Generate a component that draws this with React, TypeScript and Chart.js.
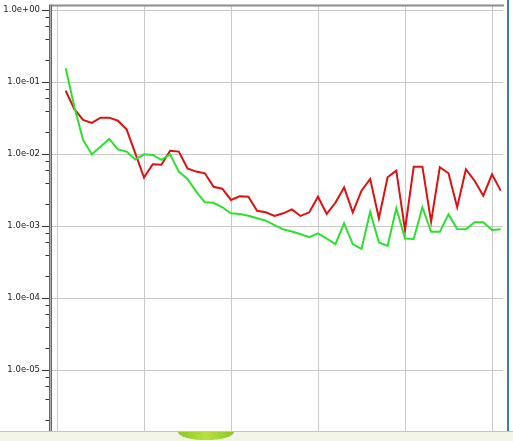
import React, { useEffect, useRef } from "react";
import { Chart, registerables } from "chart.js";

Chart.register(...registerables);

// Series values (x = sample index 1..51)
const redValues = [
  0.0757, 0.042, 0.0297, 0.027, 0.032, 0.032, 0.029, 0.022, 0.0102, 0.0047,
  0.0072, 0.0071, 0.0111, 0.0108, 0.0063, 0.0057, 0.0054, 0.0035, 0.0033, 0.0023,
  0.00258, 0.00255, 0.00163, 0.00155, 0.00138, 0.0015, 0.0017, 0.00138, 0.00155, 0.00255,
  0.00147, 0.0021, 0.00344, 0.00155, 0.0031, 0.0045, 0.00128, 0.00475, 0.00587, 0.00088,
  0.00667, 0.00667, 0.00115, 0.00654, 0.0054, 0.00182, 0.00613, 0.00426, 0.00264, 0.00522,
  0.0031,
];

const greenValues = [
  0.155, 0.045, 0.0156, 0.0099, 0.0126, 0.0162, 0.0116, 0.0108, 0.0084, 0.0099,
  0.0097, 0.0083, 0.0099, 0.0057, 0.0045, 0.003, 0.00213, 0.0021, 0.00182, 0.0015,
  0.00147, 0.00139, 0.00128, 0.00119, 0.00103, 0.0009, 0.00084, 0.00077, 0.0007, 0.00079,
  0.00067, 0.00056, 0.00109, 0.00056, 0.00048, 0.00158, 0.00059, 0.00053, 0.00176, 0.00067,
  0.00066, 0.00182, 0.00083, 0.00083, 0.00145, 0.00091, 0.0009, 0.00113, 0.00113, 0.00088,
  0.0009,
];

const xGridTicks = [0, 10, 20, 30, 40, 50];
const yMajorTicks = [1, 1e-1, 1e-2, 1e-3, 1e-4, 1e-5];
const yMajorLabels = ["1.0e+00", "1.0e-01", "1.0e-02", "1.0e-03", "1.0e-04", "1.0e-05"];
const yMinorMultipliers = [2, 4, 6, 8];

const isMajor = (v: number) => {
  const l = Math.log10(v);
  return Math.abs(l - Math.round(l)) < 1e-9;
};

const Y_MIN = Math.pow(10, -5.847);
const Y_MAX = Math.pow(10, 0.0556);

const framePlugin = {
  id: "frame",
  afterDraw(chart: any) {
    const ctx = chart.ctx;
    const { left, right, top, bottom } = chart.chartArea;
    const ys = chart.scales.y;
    ctx.save();
    // top border
    ctx.strokeStyle = "#8c8c8c";
    ctx.lineWidth = 2;
    ctx.beginPath();
    ctx.moveTo(left, top - 0.5);
    ctx.lineTo(right + 1, top - 0.5);
    ctx.stroke();
    // left axis double line
    ctx.fillStyle = "#666";
    ctx.fillRect(49, top - 1.5, 3, bottom - top + 2);
    ctx.fillStyle = "#b0b0b0";
    ctx.fillRect(50, top - 1.5, 1, bottom - top + 2);
    // tick marks
    ctx.strokeStyle = "#333";
    ctx.lineWidth = 1;
    for (const t of ys.ticks) {
      const v = t.value;
      if (v < Y_MIN || v > Y_MAX) continue;
      const py = Math.round(ys.getPixelForValue(v)) + 0.5;
      const len = isMajor(v) ? 7 : 3.5;
      ctx.beginPath();
      ctx.moveTo(49 - len, py);
      ctx.lineTo(49, py);
      ctx.stroke();
    }
    ctx.restore();
  },
};

export default function App() {
  const ref = useRef<HTMLCanvasElement | null>(null);

  useEffect(() => {
    if (!ref.current) return;
    const yTickValues: number[] = [];
    for (const m of yMajorTicks) {
      yTickValues.push(m);
      for (const k of yMinorMultipliers) {
        const v = m * k * 0.1;
        if (v >= Y_MIN && v <= Y_MAX) yTickValues.push(v);
      }
    }
    const chart = new Chart(ref.current, {
      type: "line",
      data: {
        datasets: [
          {
            label: "green",
            data: greenValues.map((v, i) => ({ x: i + 1, y: v })),
            borderColor: "#2ee02e",
            borderWidth: 2,
            pointRadius: 0,
            tension: 0,
            fill: false,
          },
          {
            label: "red",
            data: redValues.map((v, i) => ({ x: i + 1, y: v })),
            borderColor: "#dd1111",
            borderWidth: 2,
            pointRadius: 0,
            tension: 0,
            fill: false,
          },
        ],
      },
      options: {
        animation: false,
        responsive: false,
        devicePixelRatio: 1,
        layout: { padding: { top: 6, right: 10, bottom: 0, left: 0 } },
        plugins: {
          legend: { display: false },
          tooltip: { enabled: false },
        },
        scales: {
          x: {
            type: "linear",
            min: -5 / 8.7,
            max: 50 + 11 / 8.7,
            afterBuildTicks: (s: any) => {
              s.ticks = xGridTicks.map((v) => ({ value: v }));
            },
            afterFit: (s: any) => {
              s.height = 0;
              s.paddingLeft = 0;
              s.paddingRight = 0;
              s.paddingTop = 0;
              s.paddingBottom = 0;
            },
            ticks: { display: false },
            border: { display: false },
            grid: { color: "#c8c8c8", lineWidth: 1, drawTicks: false },
          },
          y: {
            type: "logarithmic",
            min: Y_MIN,
            max: Y_MAX,
            afterBuildTicks: (s: any) => {
              s.ticks = yTickValues.map((v) => ({ value: v }));
            },
            afterFit: (s: any) => {
              s.width = 52;
              s.paddingTop = 0;
              s.paddingBottom = 0;
              s.paddingLeft = 0;
              s.paddingRight = 0;
            },
            border: { display: false },
            grid: {
              drawTicks: false,
              lineWidth: 1,
              color: (c: any) =>
                c.tick && isMajor(c.tick.value) ? "#c8c8c8" : "rgba(0,0,0,0)",
            },
            ticks: {
              autoSkip: false,
              padding: 12,
              color: "#222",
              font: { family: "'DejaVu Sans'", size: 8.5 },
              callback: (v: any) => {
                const idx = yMajorTicks.findIndex(
                  (m) => Math.abs(Math.log10(m) - Math.log10(Number(v))) < 1e-9
                );
                return idx >= 0 ? yMajorLabels[idx] : "";
              },
            },
          },
        },
      },
      plugins: [framePlugin],
    } as any);
    return () => chart.destroy();
  }, []);

  return (
    <div
      style={{
        position: "fixed",
        left: 0,
        top: 0,
        width: 513,
        height: 441,
        background: "#fff",
        overflow: "hidden",
      }}
    >
      <canvas ref={ref} width={513} height={431} style={{ display: "block" }} />
      <div
        style={{
          position: "absolute",
          left: 507,
          top: 0,
          width: 2,
          height: 431,
          background: "#3f7fa6",
        }}
      />
      <div
        style={{
          position: "absolute",
          left: 0,
          top: 431,
          width: 513,
          height: 10,
          background: "#f3f5e9",
          borderTop: "1px solid #b9c6d2",
          boxSizing: "border-box",
        }}
      />
      <div
        style={{
          position: "absolute",
          left: 178,
          top: 432,
          width: 56,
          height: 8,
          borderRadius: "0 0 50% 50% / 0 0 100% 100%",
          background: "linear-gradient(90deg, #8cc820, #b8e040 50%, #8cc820)",
        }}
      />
    </div>
  );
}
